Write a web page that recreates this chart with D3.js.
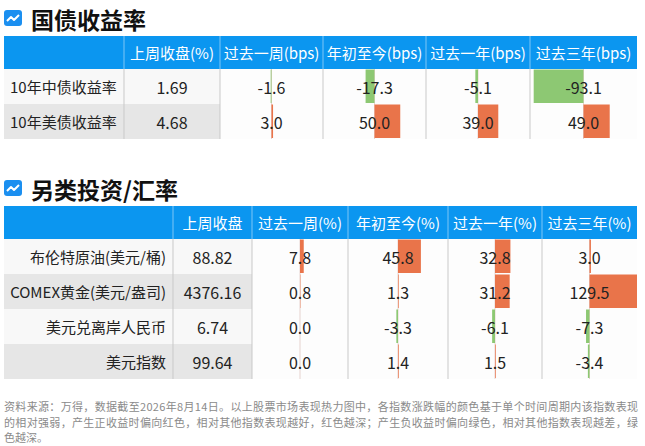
<!DOCTYPE html>
<html>
<head>
<meta charset="utf-8">
<script src="https://cdn.jsdelivr.net/npm/d3@7"></script>
<style>
  body { margin: 0; background: #fff; }
  svg text { font-family: "Noto Sans CJK SC", "Noto Sans", sans-serif; }
</style>
</head>
<body>
<svg id="chart" width="645" height="446"></svg>
<script>
// Data
var bondTitle = '国债收益率'
var bondHeaders = ['上周收盘(%)', '过去一周(bps)', '年初至今(bps)', '过去一年(bps)', '过去三年(bps)']
var bondRows = ['10年中债收益率', '10年美债收益率']
var bondClose = ['1.69', '4.68']
var bondChanges = [
  [-1.6, -17.3, -5.1, -93.1],
  [3.0, 50.0, 39.0, 49.0]
]

var altTitle = '另类投资/汇率'
var altHeaders = ['上周收盘', '过去一周(%)', '年初至今(%)', '过去一年(%)', '过去三年(%)']
var altRows = ['布伦特原油(美元/桶)', 'COMEX黄金(美元/盎司)', '美元兑离岸人民币', '美元指数']
var altClose = ['88.82', '4376.16', '6.74', '99.64']
var altChanges = [
  [7.8, 45.8, 32.8, 3.0],
  [0.8, 1.3, 31.2, 129.5],
  [0.0, -3.3, -6.1, -7.3],
  [0.0, 1.4, 1.5, -3.4]
]

var noteLines = [
  '资料来源：万得，数据截至2026年8月14日。以上股票市场表现热力图中，各指数涨跌幅的颜色基于单个时间周期内该指数表现',
  '的相对强弱，产生正收益时偏向红色，相对其他指数表现越好，红色越深；产生负收益时偏向绿色，相对其他指数表现越差，绿',
  '色越深。'
]

var colors = {
  header: '#0b96f0',
  headerLine: '#7fc6f6',
  stripe: '#e6e6e6',
  plain: '#f8f8f8',
  grid: '#c9c9c9',
  up: '#e9744a',
  down: '#8dc873',
  axis: '#e6d3cf',
  text: '#222'
}

// plain hyphen for negatives, like the source
var fmt = d3.formatLocale({ decimal: '.', thousands: ',', grouping: [3], currency: ['', ''], minus: '-' }).format('.1f')

var svg = d3.select('#chart')

function drawIcon (g, x, y) {
  g.append('rect')
    .attr('x', x).attr('y', y)
    .attr('width', 18).attr('height', 16)
    .attr('rx', 3)
    .attr('fill', '#1b8ff0')
  g.append('polyline')
    .attr('points', [[x + 3, y + 11], [x + 7, y + 7], [x + 10, y + 10], [x + 15, y + 5]].join(' '))
    .attr('fill', 'none')
    .attr('stroke', '#fff')
    .attr('stroke-width', 2)
    .attr('stroke-linejoin', 'round')
}

function drawTable (opts) {
  var g = svg.append('g')
  var cols = opts.cols
  var left = cols[0]
  var right = cols[cols.length - 1]
  var headerTop = opts.top
  var headerBottom = headerTop + 33

  // Title
  drawIcon(g, 4, headerTop - 26)
  g.append('text')
    .attr('x', 31).attr('y', headerTop - 17)
    .attr('dominant-baseline', 'central')
    .attr('font-size', 23).attr('font-weight', 700)
    .attr('fill', '#111')
    .text(opts.title)

  var y = d3.scaleBand()
    .domain(d3.range(opts.rows.length))
    .range([headerBottom, headerBottom + opts.rows.length * 35])

  // Header
  g.append('rect')
    .attr('x', left).attr('y', headerTop)
    .attr('width', right - left).attr('height', headerBottom - headerTop)
    .attr('fill', colors.header)

  g.selectAll('.hline')
    .data(cols.slice(1, -1))
    .enter().append('line')
    .attr('x1', function (d) { return d }).attr('x2', function (d) { return d })
    .attr('y1', headerTop).attr('y2', headerBottom)
    .attr('stroke', colors.headerLine)

  g.selectAll('.htext')
    .data(opts.headers)
    .enter().append('text')
    .attr('x', function (d, i) { return (cols[i + 1] + cols[i + 2]) / 2 })
    .attr('y', (headerTop + headerBottom) / 2)
    .attr('dominant-baseline', 'central')
    .attr('text-anchor', 'middle')
    .attr('font-size', 15)
    .attr('fill', '#fff')
    .text(function (d) { return d })

  // Row backgrounds (label and close columns are striped)
  g.selectAll('.rowbg')
    .data(opts.rows)
    .enter().append('rect')
    .attr('x', left).attr('y', function (d, i) { return y(i) })
    .attr('width', cols[2] - left).attr('height', y.bandwidth())
    .attr('fill', function (d, i) { return i % 2 ? colors.stripe : colors.plain })

  g.append('rect')
    .attr('x', cols[2]).attr('y', headerBottom)
    .attr('width', right - cols[2]).attr('height', y.range()[1] - headerBottom)
    .attr('fill', '#fdfdfd')

  // Data bars, one scale per change column
  opts.changes[0].forEach(function (_, c) {
    var x0 = cols[c + 2]
    var x1 = cols[c + 3]
    var x = d3.scaleLinear().domain([-100, 100]).range([x0, x1]).clamp(true)

    g.append('line')
      .attr('x1', x(0)).attr('x2', x(0))
      .attr('y1', headerBottom).attr('y2', y.range()[1])
      .attr('stroke', colors.axis)

    g.selectAll('.bar' + c)
      .data(opts.changes.map(function (r) { return r[c] }))
      .enter().append('rect')
      .attr('x', function (d) { return Math.min(x(0), x(d)) })
      .attr('y', function (d, i) { return y(i) + 0.5 })
      .attr('width', function (d) { return Math.abs(x(d) - x(0)) })
      .attr('height', y.bandwidth() - 1.5)
      .attr('fill', function (d) { return d < 0 ? colors.down : colors.up })

    g.selectAll('.val' + c)
      .data(opts.changes.map(function (r) { return r[c] }))
      .enter().append('text')
      .attr('x', (x0 + x1) / 2)
      .attr('y', function (d, i) { return y(i) + y.bandwidth() / 2 })
      .attr('dominant-baseline', 'central')
      .attr('text-anchor', 'middle')
      .attr('font-size', 16)
      .attr('fill', colors.text)
      .text(function (d) { return fmt(d) })
  })

  // Grid lines in the body
  g.selectAll('.vline')
    .data(cols.slice(1, -1))
    .enter().append('line')
    .attr('x1', function (d) { return d }).attr('x2', function (d) { return d })
    .attr('y1', headerBottom).attr('y2', y.range()[1])
    .attr('stroke', colors.grid)

  // Labels and close values
  g.selectAll('.label')
    .data(opts.rows)
    .enter().append('text')
    .attr('x', opts.labelAlign === 'end' ? cols[1] - 7 : left + 6)
    .attr('y', function (d, i) { return y(i) + y.bandwidth() / 2 })
    .attr('dominant-baseline', 'central')
    .attr('text-anchor', opts.labelAlign)
    .attr('font-size', 15)
    .attr('fill', colors.text)
    .text(function (d) { return d })

  g.selectAll('.close')
    .data(opts.close)
    .enter().append('text')
    .attr('x', (cols[1] + cols[2]) / 2)
    .attr('y', function (d, i) { return y(i) + y.bandwidth() / 2 })
    .attr('dominant-baseline', 'central')
    .attr('text-anchor', 'middle')
    .attr('font-size', 16)
    .attr('fill', colors.text)
    .text(function (d) { return d })
}

drawTable({
  title: bondTitle,
  headers: bondHeaders,
  rows: bondRows,
  close: bondClose,
  changes: bondChanges,
  cols: [4, 124, 220, 323, 426, 530, 637],
  top: 36,
  labelAlign: 'start'
})

drawTable({
  title: altTitle,
  headers: altHeaders,
  rows: altRows,
  close: altClose,
  changes: altChanges,
  cols: [4, 173, 252, 348, 448, 542, 637],
  top: 206,
  labelAlign: 'end'
})

// Footnote, first two lines stretched to the full width
svg.append('g').selectAll('text')
  .data(noteLines)
  .enter().append('text')
  .attr('x', 4)
  .attr('y', function (d, i) { return 406 + i * 15.5 })
  .attr('dominant-baseline', 'central')
  .attr('font-size', 11)
  .attr('fill', '#8a8a8a')
  .attr('textLength', function (d, i) { return i < noteLines.length - 1 ? 634 : null })
  .attr('lengthAdjust', 'spacing')
  .text(function (d) { return d })
</script>
</body>
</html>
